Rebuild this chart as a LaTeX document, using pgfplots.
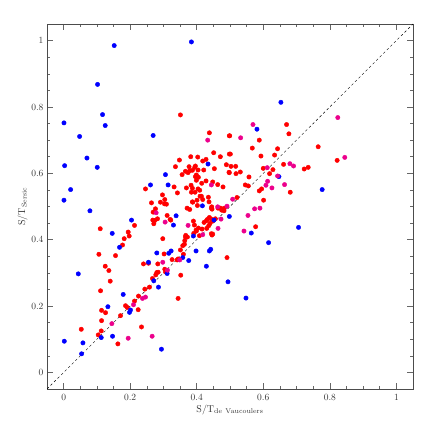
\documentclass[border=0pt]{standalone}
\usepackage{pgfplots}
\pgfplotsset{compat=1.18}
\begin{document}
\begin{tikzpicture}
\begin{axis}[name=ax,
  scale only axis, width=366bp, height=365bp,
  xmin=-0.05, xmax=1.05, ymin=-0.05, ymax=1.05,
  xtick={0,0.2,0.4,0.6,0.8,1}, ytick={0,0.2,0.4,0.6,0.8,1},
  xticklabels={0,0.2,0.4,0.6,0.8,1}, yticklabels={0,0.2,0.4,0.6,0.8,1},
  minor x tick num=3, minor y tick num=3,
  tick align=inside, major tick length=6bp, minor tick length=3bp,
  tick style={gray!80!black, line width=0.5pt},
  axis line style={gray!60!black, line width=0.7pt},
  ticklabel style={font=\fontsize{9.5}{11}\selectfont, text=black!80},
  xticklabel style={yshift=-2bp},
  xlabel={S/T$_{\mathrm{de\ Vaucoulers}}$},
  ylabel={S/T$_{\mathrm{Sersic}}$},
  label style={font=\fontsize{10}{12}\selectfont, text=black!80},
  xlabel style={yshift=3bp},
  ylabel style={yshift=-3bp},
  clip=true,
]
\addplot[black, dashed, dash pattern=on 2.5bp off 2.5bp, line width=0.4pt] coordinates {(-0.05,-0.05) (1.05,1.05)};
\addplot[only marks, mark=*, mark size=2.2bp, draw=red, fill=red] table {
x y
0.246 0.553
0.264 0.511
0.297 0.535
0.291 0.513
0.309 0.507
0.304 0.521
0.276 0.493
0.269 0.483
0.311 0.473
0.282 0.463
0.274 0.458
0.271 0.448
0.110 0.433
0.194 0.423
0.213 0.443
0.197 0.411
0.182 0.403
0.298 0.403
0.320 0.461
0.351 0.776
0.438 0.722
0.498 0.713
0.451 0.662
0.382 0.650
0.403 0.649
0.348 0.640
0.428 0.642
0.418 0.637
0.471 0.650
0.498 0.658
0.336 0.620
0.377 0.620
0.394 0.618
0.453 0.614
0.489 0.626
0.366 0.606
0.379 0.608
0.421 0.610
0.356 0.596
0.374 0.602
0.399 0.595
0.405 0.588
0.396 0.590
0.399 0.579
0.387 0.609
0.404 0.610
0.396 0.622
0.498 0.602
0.428 0.577
0.415 0.570
0.448 0.574
0.463 0.566
0.479 0.559
0.332 0.559
0.369 0.556
0.383 0.564
0.387 0.555
0.404 0.553
0.409 0.549
0.342 0.541
0.395 0.543
0.384 0.543
0.414 0.531
0.410 0.531
0.435 0.528
0.437 0.514
0.387 0.514
0.401 0.519
0.418 0.521
0.303 0.508
0.444 0.495
0.464 0.495
0.472 0.495
0.371 0.495
0.379 0.491
0.483 0.495
0.388 0.513
0.402 0.503
0.445 0.499
0.446 0.492
0.475 0.489
0.482 0.487
0.670 0.747
0.677 0.719
0.499 0.713
0.588 0.700
0.765 0.680
0.567 0.676
0.643 0.674
0.501 0.658
0.593 0.652
0.634 0.655
0.822 0.639
0.503 0.621
0.517 0.621
0.600 0.615
0.629 0.611
0.661 0.627
0.723 0.613
0.735 0.618
0.497 0.603
0.518 0.599
0.531 0.604
0.619 0.599
0.557 0.589
0.546 0.565
0.555 0.562
0.595 0.553
0.588 0.547
0.681 0.543
0.521 0.527
0.601 0.519
0.577 0.439
0.491 0.346
0.438 0.467
0.432 0.461
0.429 0.457
0.444 0.462
0.456 0.463
0.422 0.452
0.440 0.449
0.448 0.456
0.436 0.442
0.416 0.432
0.444 0.418
0.448 0.417
0.390 0.456
0.399 0.426
0.405 0.435
0.398 0.429
0.430 0.434
0.393 0.444
0.366 0.408
0.372 0.408
0.364 0.397
0.367 0.413
0.408 0.412
0.446 0.414
0.363 0.386
0.391 0.419
0.322 0.459
0.268 0.459
0.177 0.384
0.106 0.356
0.156 0.352
0.302 0.357
0.125 0.320
0.136 0.307
0.140 0.275
0.111 0.246
0.114 0.187
0.126 0.180
0.114 0.156
0.053 0.130
0.104 0.113
0.113 0.125
0.163 0.086
0.171 0.171
0.186 0.201
0.191 0.196
0.213 0.215
0.225 0.230
0.224 0.189
0.234 0.137
0.244 0.251
0.258 0.257
0.267 0.283
0.277 0.294
0.284 0.302
0.240 0.327
0.255 0.329
0.283 0.327
0.358 0.382
0.360 0.356
0.341 0.339
0.326 0.340
0.304 0.311
0.306 0.303
0.280 0.301
0.352 0.293
0.344 0.223
0.351 0.369
0.344 0.342
};
\addplot[only marks, mark=*, mark size=2.2bp, draw=blue, fill=blue] table {
x y
0.152 0.985
0.384 0.996
0.102 0.868
0.117 0.777
0.125 0.744
0.001 0.752
0.048 0.711
0.269 0.714
0.070 0.646
0.003 0.623
0.101 0.618
0.306 0.596
0.261 0.565
0.314 0.565
0.021 0.551
0.001 0.519
0.079 0.487
0.204 0.459
0.146 0.419
0.434 0.628
0.417 0.502
0.653 0.814
0.581 0.733
0.647 0.590
0.777 0.551
0.498 0.470
0.564 0.420
0.706 0.437
0.616 0.391
0.494 0.273
0.548 0.224
0.168 0.377
0.280 0.360
0.316 0.359
0.323 0.366
0.338 0.472
0.330 0.444
0.452 0.459
0.390 0.411
0.044 0.297
0.179 0.235
0.133 0.198
0.113 0.105
0.002 0.094
0.058 0.089
0.054 0.056
0.147 0.109
0.201 0.188
0.198 0.181
0.255 0.332
0.271 0.276
0.285 0.257
0.358 0.346
0.376 0.337
0.398 0.366
0.438 0.366
0.442 0.371
0.429 0.320
0.311 0.298
0.294 0.070
};
\addplot[only marks, mark=*, mark size=2.2bp, draw=magenta, fill=magenta] table {
x y
0.278 0.481
0.305 0.453
0.433 0.700
0.444 0.565
0.491 0.501
0.824 0.768
0.569 0.747
0.532 0.707
0.845 0.648
0.612 0.617
0.680 0.629
0.691 0.622
0.643 0.592
0.613 0.576
0.608 0.564
0.664 0.566
0.626 0.556
0.508 0.522
0.574 0.493
0.590 0.495
0.473 0.462
0.554 0.473
0.542 0.426
0.463 0.499
0.464 0.434
0.418 0.415
0.374 0.443
0.349 0.339
0.298 0.332
0.312 0.308
0.194 0.103
0.145 0.147
0.210 0.204
0.237 0.223
0.246 0.227
0.266 0.109
};
\end{axis}
\pgfresetboundingbox
\path ([xshift=-47bp,yshift=-47bp]ax.south west) rectangle ([xshift=23bp,yshift=24bp]ax.north east);
\end{tikzpicture}
\end{document}
